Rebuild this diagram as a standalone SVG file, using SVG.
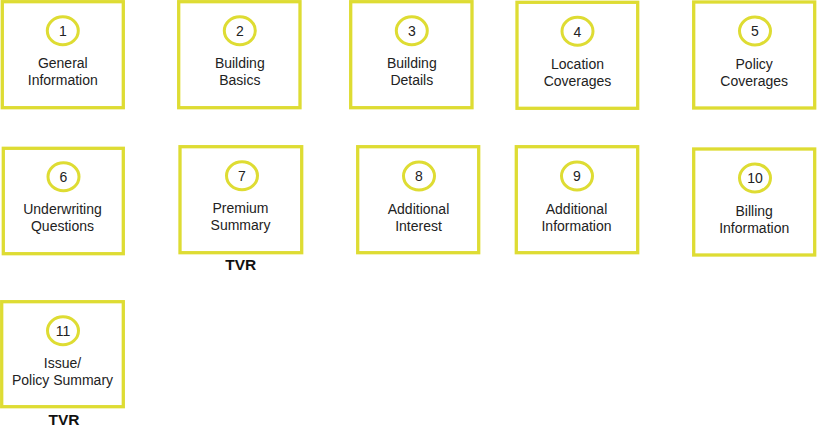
<svg xmlns="http://www.w3.org/2000/svg" width="817" height="426" viewBox="0 0 817 426">
<style>
.box{fill:#ffffff;stroke:#dedc33;stroke-width:3.3}
.num{fill:#ffffff;stroke:#dedc33;stroke-width:3}
.t{font-family:"Liberation Sans",Arial,sans-serif;font-size:14px;fill:#222222;text-anchor:middle}
.tvr{font-family:"Liberation Sans",Arial,sans-serif;font-size:15.5px;font-weight:bold;fill:#111111;text-anchor:middle}
</style>
<rect width="817" height="426" fill="#ffffff"/>
<g id="connectors"></g>
<g id="n1"><rect class="box" x="2.3" y="1.7" width="121" height="106"/><ellipse class="num" cx="62.8" cy="30.7" rx="15.5" ry="14"/><text class="t" x="62.8" y="36">1</text><text class="t" x="62.8" y="68.2">General</text><text class="t" x="62.8" y="85.4">Information</text></g>
<g id="n2"><rect class="box" x="178.7" y="1.7" width="121.3" height="106"/><ellipse class="num" cx="239.8" cy="30.7" rx="15.5" ry="14"/><text class="t" x="239.8" y="36">2</text><text class="t" x="239.8" y="68.2">Building</text><text class="t" x="239.8" y="85.4">Basics</text></g>
<g id="n3"><rect class="box" x="350.7" y="1.7" width="121.3" height="106"/><ellipse class="num" cx="411.8" cy="30.7" rx="15.5" ry="14"/><text class="t" x="411.8" y="36">3</text><text class="t" x="411.8" y="68.2">Building</text><text class="t" x="411.8" y="85.4">Details</text></g>
<g id="n4"><rect class="box" x="517" y="2.3" width="120.7" height="106"/><ellipse class="num" cx="577.5" cy="31.2" rx="15.5" ry="14"/><text class="t" x="577.5" y="36.5">4</text><text class="t" x="577.5" y="68.7">Location</text><text class="t" x="577.5" y="85.9">Coverages</text></g>
<g id="n5"><rect class="box" x="693.7" y="2" width="121" height="106"/><ellipse class="num" cx="755" cy="31" rx="15.5" ry="14"/><text class="t" x="755" y="36.3">5</text><text class="t" x="754.2" y="68.5">Policy</text><text class="t" x="754.2" y="85.7">Coverages</text></g>
<g id="n6"><rect class="box" x="3.3" y="148.3" width="120" height="105.4"/><ellipse class="num" cx="63.5" cy="176.8" rx="15.5" ry="14"/><text class="t" x="63.5" y="182.1">6</text><text class="t" x="62.5" y="214.3">Underwriting</text><text class="t" x="62.5" y="231.3">Questions</text></g>
<g id="n7"><rect class="box" x="180" y="146.7" width="121.7" height="106"/><ellipse class="num" cx="242" cy="175.7" rx="15.5" ry="14"/><text class="t" x="242" y="181">7</text><text class="t" x="240.5" y="213.2">Premium</text><text class="t" x="240.5" y="230.4">Summary</text></g>
<g id="n8"><rect class="box" x="357.7" y="146.7" width="121" height="106"/><ellipse class="num" cx="419" cy="176" rx="15.5" ry="14"/><text class="t" x="419" y="181.3">8</text><text class="t" x="418.5" y="213.5">Additional</text><text class="t" x="418.5" y="230.7">Interest</text></g>
<g id="n9"><rect class="box" x="516.3" y="146.7" width="121.4" height="106"/><ellipse class="num" cx="577" cy="176" rx="15.5" ry="14"/><text class="t" x="577" y="181.3">9</text><text class="t" x="576.5" y="213.5">Additional</text><text class="t" x="576.5" y="230.7">Information</text></g>
<g id="n10"><rect class="box" x="693.7" y="149" width="121" height="106"/><ellipse class="num" cx="755" cy="178" rx="15.5" ry="14"/><text class="t" x="755" y="183.3">10</text><text class="t" x="754.2" y="215.5">Billing</text><text class="t" x="754.2" y="232.7">Information</text></g>
<g id="n11"><rect class="box" x="1.7" y="301.7" width="121.6" height="105"/><ellipse class="num" cx="63" cy="330.7" rx="15.5" ry="14"/><text class="t" x="63" y="336">11</text><text class="t" x="62.5" y="368.2">Issue/</text><text class="t" x="62.5" y="385.4">Policy Summary</text></g>
<g id="labels"><text class="tvr" x="240.8" y="270">TVR</text><text class="tvr" x="64" y="424.5">TVR</text></g>
</svg>
